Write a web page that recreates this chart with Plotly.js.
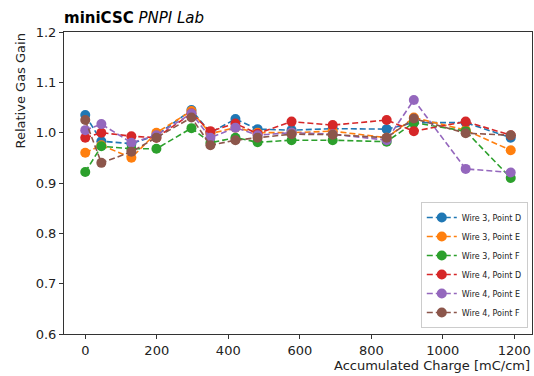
<!DOCTYPE html>
<html>
<head>
<meta charset="utf-8">
<script src="https://cdn.plot.ly/plotly-3.0.1.min.js"></script>
<style>html,body{margin:0;padding:0;background:#fff;}#chart{width:534px;height:376px;}</style>
</head>
<body>
<div id="chart"></div>
<script>
const charge = [0, 45, 129, 199, 297, 350, 420, 482, 577, 692, 843, 919, 1064, 1190];
const seriesNames = ["Wire 3, Point D", "Wire 3, Point E", "Wire 3, Point F", "Wire 4, Point D", "Wire 4, Point E", "Wire 4, Point F"];
const w3PointD = [1.035, 0.983, 0.978, 0.995, 1.045, 1.000, 1.027, 1.007, 1.005, 1.008, 1.007, 1.020, 1.020, 0.990];
const w3PointE = [0.960, 0.975, 0.950, 1.000, 1.043, 0.998, 1.010, 1.000, 1.000, 1.003, 0.990, 1.030, 1.005, 0.965];
const w3PointF = [0.922, 0.973, 0.968, 0.968, 1.009, 0.980, 0.990, 0.981, 0.985, 0.985, 0.982, 1.020, 1.003, 0.910];
const w4PointD = [0.990, 1.000, 0.993, 0.990, 1.038, 1.003, 1.018, 0.998, 1.022, 1.015, 1.025, 1.003, 1.022, 0.995];
const w4PointE = [1.005, 1.017, 0.980, 0.995, 1.038, 0.990, 1.010, 0.995, 1.000, 0.997, 0.985, 1.065, 0.928, 0.921];
const w4PointF = [1.025, 0.940, 0.962, 0.990, 1.030, 0.975, 0.985, 0.990, 0.997, 0.996, 0.990, 1.028, 0.999, 0.995];
const yTicks = [0.6, 0.7, 0.8, 0.9, 1.0, 1.1, 1.2];
const xTicks = [0, 200, 400, 600, 800, 1000, 1200];

const colors = ["#1f77b4", "#ff7f0e", "#2ca02c", "#d62728", "#9467bd", "#8c564b"];
const allSeries = [w3PointD, w3PointE, w3PointF, w4PointD, w4PointE, w4PointF];

const traces = allSeries.map((ys, i) => ({
  type: "scatter",
  mode: "lines+markers",
  x: charge,
  y: ys,
  name: seriesNames[i],
  line: {color: colors[i], width: 1.6, dash: "6px,3px"},
  marker: {color: colors[i], size: 10}
}));

const font = "DejaVu Sans, sans-serif";
const layout = {
  width: 534, height: 376,
  margin: {l: 64, r: 2, t: 32, b: 42},
  paper_bgcolor: "#fff", plot_bgcolor: "#fff",
  font: {family: font, size: 13, color: "#222"},
  showlegend: true,
  legend: {
    x: 0.991, xanchor: "right", y: 0.02, yanchor: "bottom",
    bgcolor: "rgba(255,255,255,0.8)", bordercolor: "#ccc", borderwidth: 1,
    font: {family: font, size: 8, color: "#222"},
    tracegroupgap: 0
  },
  title: {
    text: "<b>miniCSC</b> <i>PNPI Lab</i>",
    font: {family: font, size: 15, color: "#000"},
    xref: "paper", x: 0, xanchor: "left",
    yref: "container", y: 0.952, yanchor: "middle"
  },
  xaxis: {
    range: [-59.5, 1249.5],
    tickvals: xTicks, ticktext: xTicks.map(String),
    ticks: "outside", ticklen: 4, tickcolor: "#333",
    showline: true, mirror: true, linecolor: "#333", linewidth: 1,
    showgrid: false, zeroline: false,
    tickfont: {family: font, size: 13, color: "#222"}
  },
  yaxis: {
    range: [0.6, 1.2],
    tickvals: yTicks, ticktext: yTicks.map(v => v.toFixed(1)),
    ticks: "outside", ticklen: 4, tickcolor: "#333",
    showline: true, mirror: true, linecolor: "#333", linewidth: 1,
    showgrid: false, zeroline: false,
    tickfont: {family: font, size: 13, color: "#222"}
  },
  annotations: [
    {
      text: "Relative Gas Gain", textangle: -90, showarrow: false,
      xref: "paper", yref: "paper", x: 0, y: 1,
      xanchor: "center", yanchor: "top", xshift: -44,
      font: {family: font, size: 13, color: "#222"}
    },
    {
      text: "Accumulated Charge [mC/cm]", showarrow: false,
      xref: "paper", yref: "paper", x: 1, y: 0,
      xanchor: "right", yanchor: "top", yshift: -22,
      font: {family: font, size: 13, color: "#222"}
    }
  ]
};

Plotly.newPlot("chart", traces, layout, {displayModeBar: false, staticPlot: true});
</script>
</body>
</html>
